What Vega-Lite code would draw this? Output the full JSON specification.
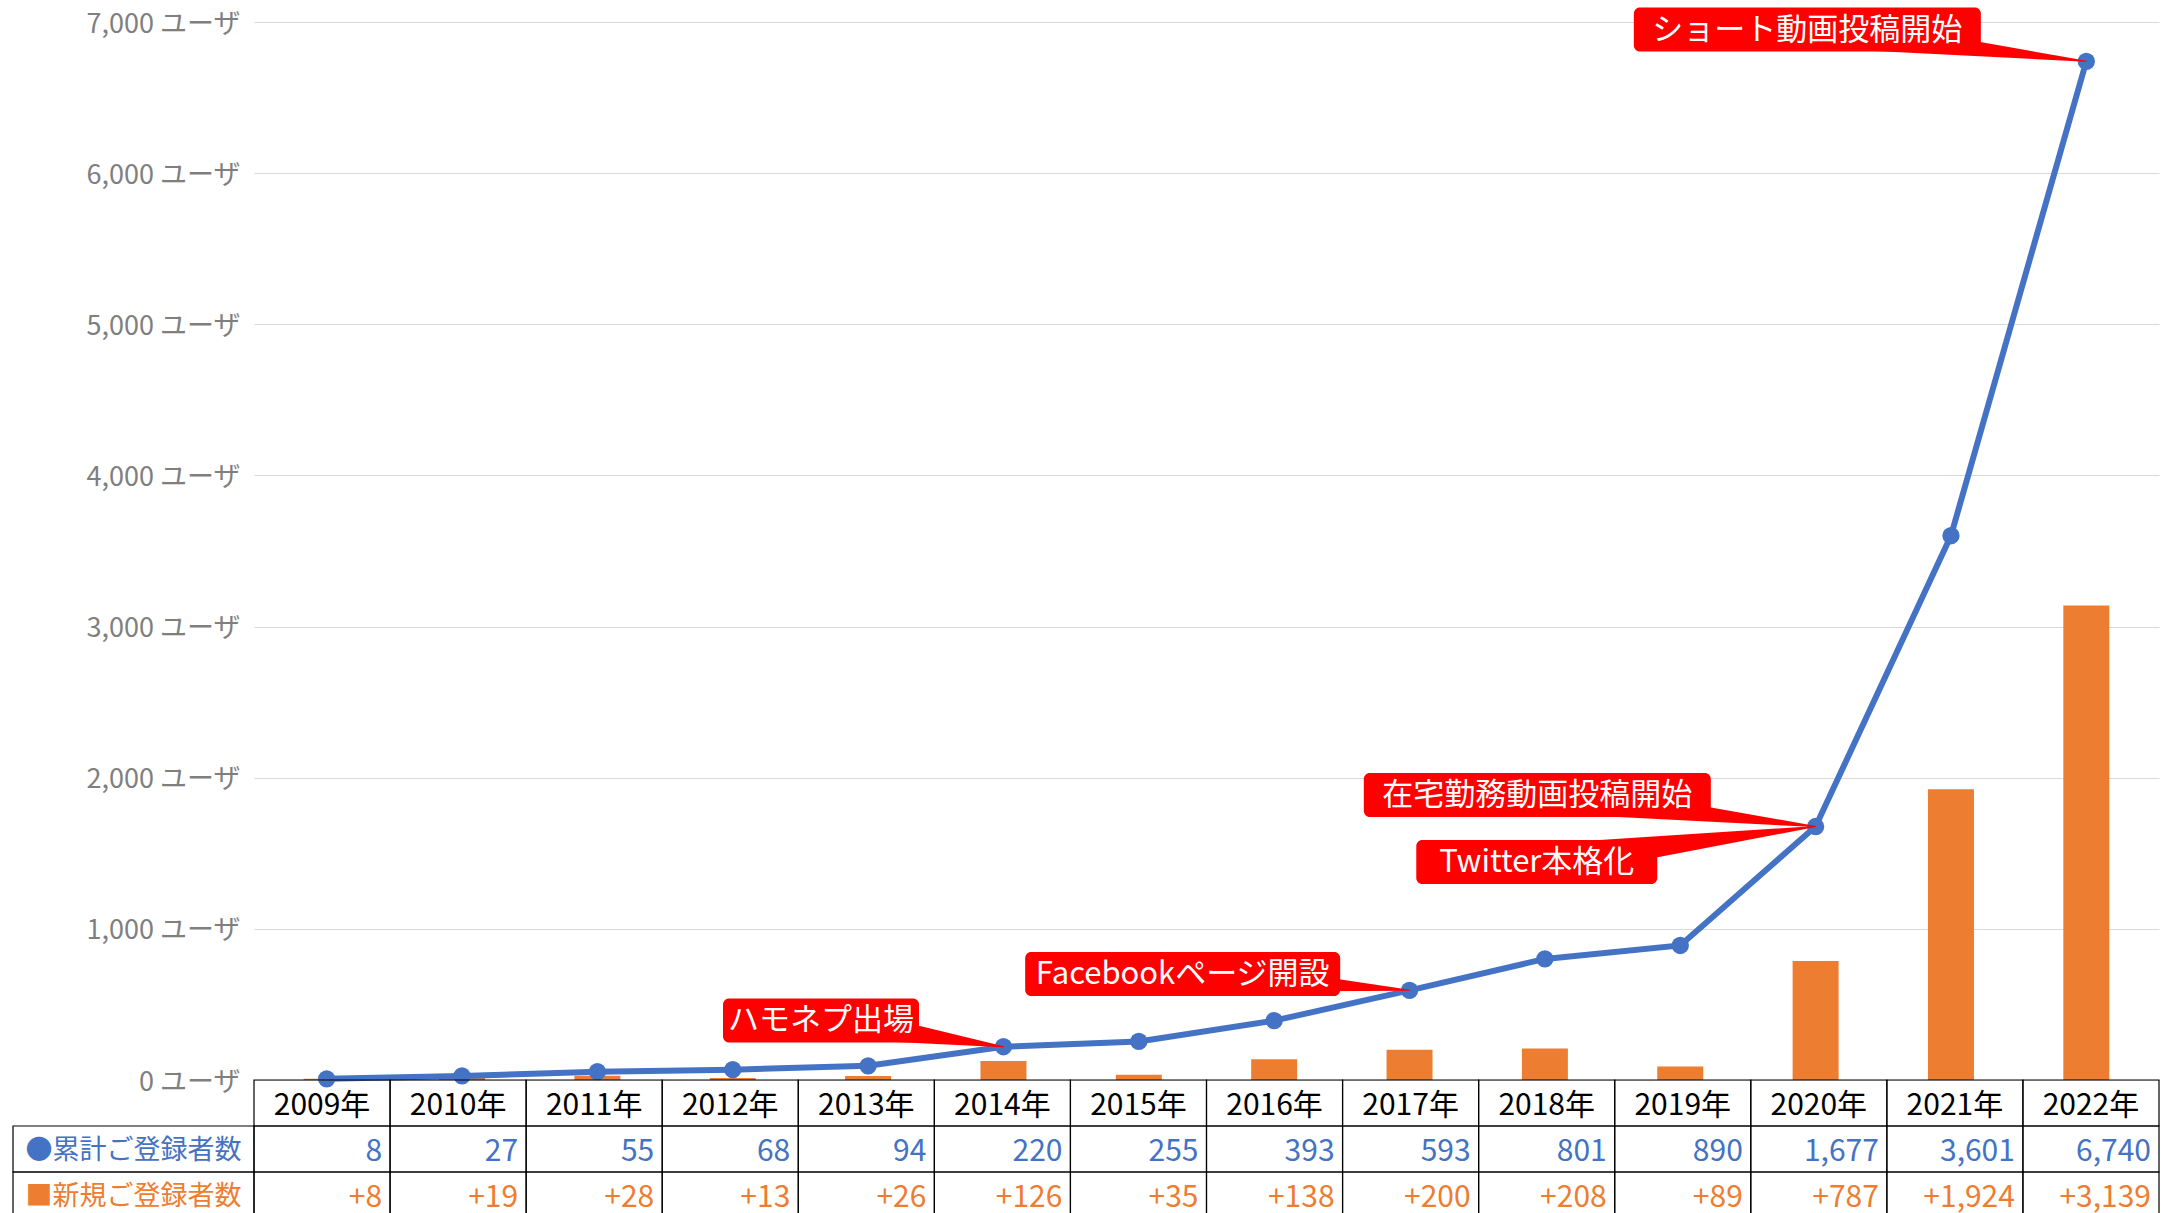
{
  "$schema": "https://vega.github.io/schema/vega-lite/v6.json",
  "padding": {"left": 12, "top": 7, "right": 0, "bottom": 0},
  "background": "white",
  "config": {"view": {"stroke": null}, "font": "Noto Sans CJK JP"},
  "datasets": {
    "main": [
      {"year": 2009, "cum": 8, "new": 8},
      {"year": 2010, "cum": 27, "new": 19},
      {"year": 2011, "cum": 55, "new": 28},
      {"year": 2012, "cum": 68, "new": 13},
      {"year": 2013, "cum": 94, "new": 26},
      {"year": 2014, "cum": 220, "new": 126},
      {"year": 2015, "cum": 255, "new": 35},
      {"year": 2016, "cum": 393, "new": 138},
      {"year": 2017, "cum": 593, "new": 200},
      {"year": 2018, "cum": 801, "new": 208},
      {"year": 2019, "cum": 890, "new": 89},
      {"year": 2020, "cum": 1677, "new": 787},
      {"year": 2021, "cum": 3601, "new": 1924},
      {"year": 2022, "cum": 6740, "new": 3139}
    ],
    "callouts": [
      {"label": "ハモネプ出場", "bx": 2012.652, "by": 394},
      {"label": "Facebookページ開設", "bx": 2015.324, "by": 701},
      {"label": "在宅勤務動画投稿開始", "bx": 2017.944, "by": 1886},
      {"label": "Twitter本格化", "bx": 2017.94, "by": 1442},
      {"label": "ショート動画投稿開始", "bx": 2019.939, "by": 6950}
    ],
    "wedges": [
      {"label": "ハモネプ出場", "end": "box", "x": 2012.652, "y": 394},
      {"label": "ハモネプ出場", "end": "pt", "x": 2014, "y": 220},
      {"label": "Facebookページ開設", "end": "box", "x": 2015.324, "y": 701},
      {"label": "Facebookページ開設", "end": "pt", "x": 2017, "y": 593},
      {"label": "在宅勤務動画投稿開始", "end": "box", "x": 2017.944, "y": 1886},
      {"label": "在宅勤務動画投稿開始", "end": "pt", "x": 2020, "y": 1677},
      {"label": "Twitter本格化", "end": "box", "x": 2017.94, "y": 1442},
      {"label": "Twitter本格化", "end": "pt", "x": 2020, "y": 1677},
      {"label": "ショート動画投稿開始", "end": "box", "x": 2019.939, "y": 6950},
      {"label": "ショート動画投稿開始", "end": "pt", "x": 2022, "y": 6740}
    ],
    "rowlabels": [
      {"row": "cum", "label": "●累計ご登録者数"},
      {"row": "new", "label": "■新規ご登録者数"}
    ]
  },
  "columns": 2,
  "spacing": 0,
  "bounds": "flush",
  "resolve": {"scale": {"x": "independent", "y": "independent", "color": "independent", "size": "independent"}},
  "concat": [
    {"width": 241, "height": 1058, "data": {"values": []}, "mark": "point"},
    {
      "width": 1905,
      "height": 1058,
      "layer": [
        {
          "data": {"name": "main"},
          "mark": {"type": "bar", "orient": "vertical", "width": 46, "color": "#ED7D31"},
          "encoding": {
            "x": {"field": "year", "type": "quantitative", "scale": {"domain": [2008.5, 2022.5], "nice": false, "zero": false}, "axis": null},
            "y": {"field": "new", "type": "quantitative", "scale": {"domain": [0, 7000], "nice": false},
              "axis": {"values": [0, 1000, 2000, 3000, 4000, 5000, 6000, 7000], "labelExpr": "format(datum.value, ',') + ' ユーザ'", "labelFontSize": 27, "labelColor": "#7f7f7f", "labelOffset": 2, "ticks": false, "domain": false, "gridColor": "#d9d9d9", "gridWidth": 1, "labelPadding": 14, "title": null}}
          }
        },
        {
          "data": {"name": "main"},
          "mark": {"type": "line", "color": "#4472C4", "strokeWidth": 6},
          "encoding": {
            "x": {"field": "year", "type": "quantitative"},
            "y": {"field": "cum", "type": "quantitative"}
          }
        },
        {
          "data": {"name": "main"},
          "mark": {"type": "point", "filled": true, "shape": "circle", "size": 300, "color": "#4472C4", "opacity": 1},
          "encoding": {
            "x": {"field": "year", "type": "quantitative"},
            "y": {"field": "cum", "type": "quantitative"}
          }
        },
        {
          "data": {"name": "wedges"},
          "mark": {"type": "trail", "color": "#FF0000"},
          "encoding": {
            "x": {"field": "x", "type": "quantitative"},
            "y": {"field": "y", "type": "quantitative"},
            "detail": {"field": "label", "type": "nominal"},
            "order": {"field": "end"},
            "size": {"field": "end", "type": "nominal", "scale": {"type": "ordinal", "domain": ["box", "pt"], "range": [36, 1]}, "legend": null}
          }
        },
        {
          "data": {"name": "callouts"},
          "mark": {"type": "rect", "color": "#FF0000", "cornerRadius": 6, "height": 44,
            "width": {"expr": "datum.label === 'ハモネプ出場' ? 196 : datum.label === 'Facebookページ開設' ? 315 : datum.label === 'Twitter本格化' ? 241 : 347"}},
          "encoding": {
            "x": {"field": "bx", "type": "quantitative"},
            "y": {"field": "by", "type": "quantitative"}
          }
        },
        {
          "data": {"name": "callouts"},
          "mark": {"type": "text", "color": "white", "fontSize": 31, "align": "center", "baseline": "middle", "dy": 1},
          "encoding": {
            "x": {"field": "bx", "type": "quantitative"},
            "y": {"field": "by", "type": "quantitative"},
            "text": {"field": "label"}
          }
        }
      ]
    },
    {
      "width": 241,
      "height": 138,
      "data": {"name": "rowlabels"},
      "encoding": {
        "y": {"field": "row", "type": "nominal", "scale": {"domain": ["hdr", "cum", "new"], "paddingInner": 0, "paddingOuter": 0}, "axis": null}
      },
      "layer": [
        {"mark": {"type": "rect", "fill": "white", "fillOpacity": 0, "stroke": "black", "strokeWidth": 1.2}},
        {
          "mark": {"type": "text", "fontSize": 27, "dy": 2},
          "encoding": {
            "text": {"field": "label"},
            "color": {"field": "row", "type": "nominal", "scale": {"domain": ["cum", "new"], "range": ["#4472C4", "#ED7D31"]}, "legend": null}
          }
        }
      ]
    },
    {
      "width": 1905,
      "height": 138,
      "data": {"name": "main"},
      "encoding": {
        "x": {"field": "year", "type": "ordinal", "scale": {"paddingInner": 0, "paddingOuter": 0}, "axis": null}
      },
      "layer": [
        {"mark": {"type": "rect", "fill": "white", "fillOpacity": 0, "stroke": "black", "strokeWidth": 1.2},
         "encoding": {"y": {"datum": "hdr", "type": "nominal", "scale": {"domain": ["hdr", "cum", "new"], "paddingInner": 0, "paddingOuter": 0}, "axis": null}}},
        {"mark": {"type": "rect", "fill": "white", "fillOpacity": 0, "stroke": "black", "strokeWidth": 1.2},
         "encoding": {"y": {"datum": "cum", "type": "nominal"}}},
        {"mark": {"type": "rect", "fill": "white", "fillOpacity": 0, "stroke": "black", "strokeWidth": 1.2},
         "encoding": {"y": {"datum": "new", "type": "nominal"}}},
        {"mark": {"type": "text", "fontSize": 30, "color": "black", "dy": 3, "text": {"expr": "datum.year + '年'"}},
         "encoding": {"y": {"datum": "hdr", "type": "nominal"}}},
        {"mark": {"type": "text", "fontSize": 30, "color": "#4472C4", "align": "right", "dx": -8, "dy": 3},
         "encoding": {
           "x": {"field": "year", "type": "ordinal", "bandPosition": 1},
           "y": {"datum": "cum", "type": "nominal"},
           "text": {"field": "cum", "type": "quantitative", "format": ","}
         }},
        {"mark": {"type": "text", "fontSize": 30, "color": "#ED7D31", "align": "right", "dx": -8, "dy": 3, "text": {"expr": "'+' + format(datum.new, ',')"}},
         "encoding": {
           "x": {"field": "year", "type": "ordinal", "bandPosition": 1},
           "y": {"datum": "new", "type": "nominal"}
         }}
      ]
    }
  ]
}
